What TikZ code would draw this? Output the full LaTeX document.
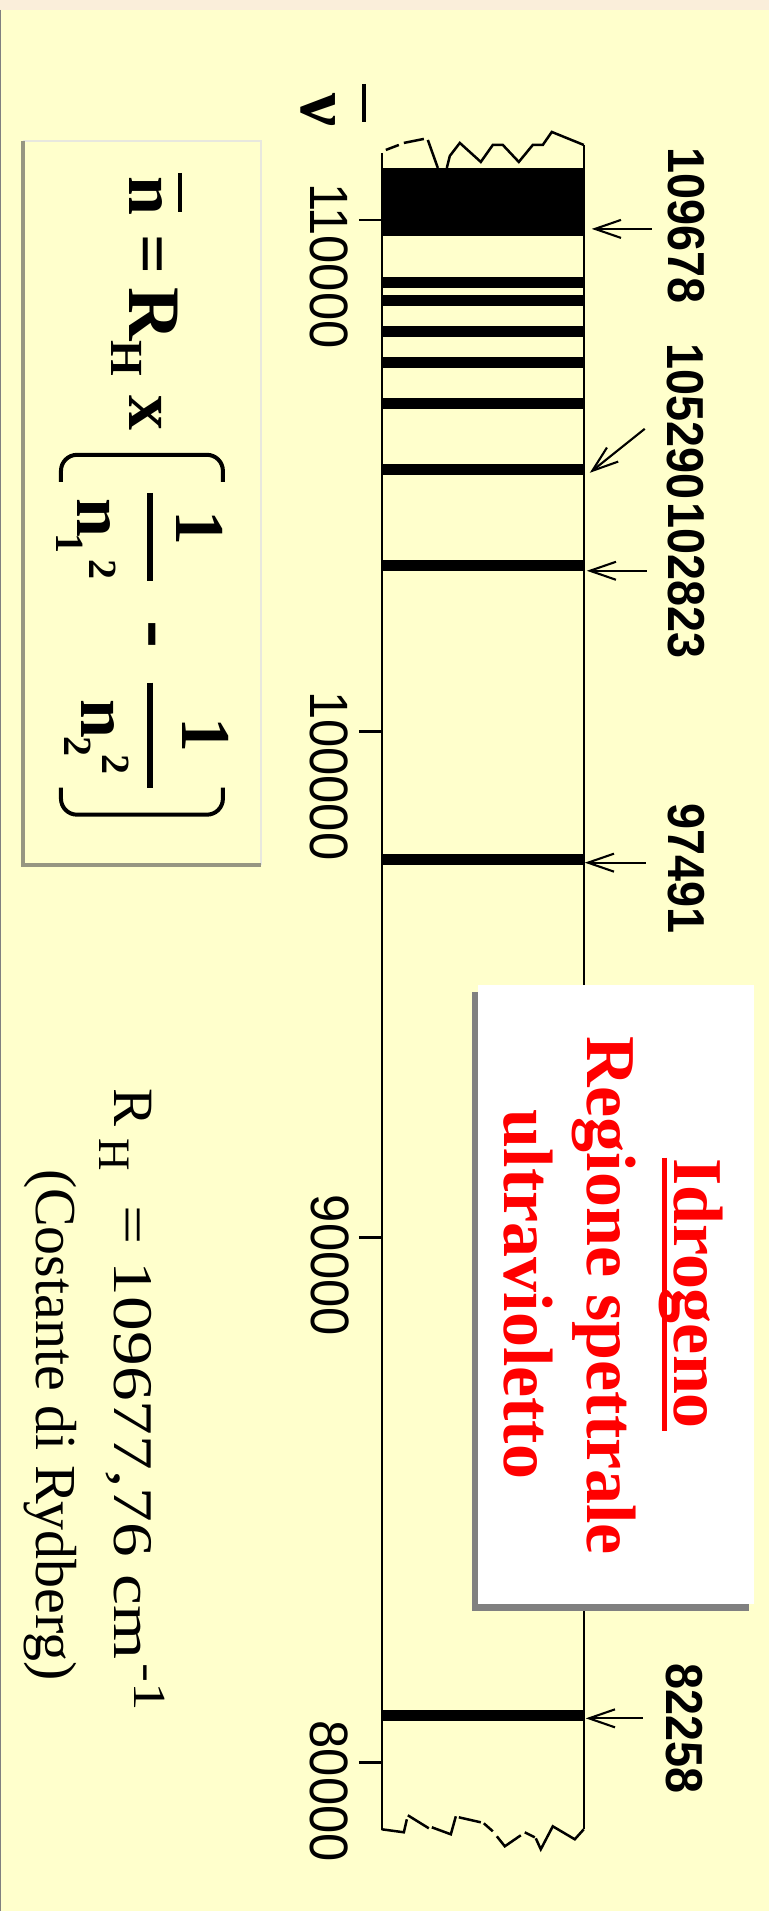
\documentclass[tikz,border=0pt]{standalone}
\usepackage{fontspec}
\setmainfont{Liberation Serif}
\newfontfamily\helv[FakeStretch=0.9]{Liberation Sans}
\newfontfamily\helvtick[FakeStretch=0.94]{Liberation Sans}
\newfontfamily\timeswide[FakeStretch=1.24]{Liberation Serif}
\usetikzlibrary{arrows.meta,calc,positioning}
\definecolor{slidebg}{RGB}{255,255,204}
\definecolor{slidetop}{RGB}{250,238,218}
\definecolor{boxshade}{RGB}{150,150,130}
\definecolor{boxlight}{RGB}{232,232,222}

\begin{document}
\begin{tikzpicture}[x=1pt,y=-1pt,
every node/.style={inner sep=0pt,outer sep=0pt,rotate=-90},
line label/.style={anchor=south,font=\helv\bfseries\fontsize{52}{60}\selectfont},
tick label/.style={font=\helvtick\fontsize{54}{62}\selectfont},
formula/.style={anchor=base,font=\bfseries\fontsize{70}{80}\selectfont},
formula small/.style={anchor=base,font=\bfseries\fontsize{40}{44}\selectfont},
title red/.style={anchor=base,text=red,font=\bfseries\fontsize{70}{80}\selectfont},
pointer/.style={-{Straight Barb[length=26pt,width=18pt]},line width=2.1pt},
band/.style={line width=2.5pt}]

% slide background
\fill[slidebg] (0,0) rectangle (769,1912);
\fill[slidetop] (0,0) rectangle (769,10);
\draw[gray,line width=1.5pt] (0.75,10) -- (0.75,1912);
\useasboundingbox (0,0) rectangle (769,1912);

% spectrum band
\draw[band] (382,153) -- (382,1831);
\draw[band] (584,145) -- (584,1830);
\draw[band] (386,150) -- (399,145);
\draw[band] (404,143) -- (424,139);
\draw[band] (428,140) -- (438,168);
\draw[band] (447,168) -- (450,156) -- (460,143) -- (481,162) -- (493,145) -- (503,145)
  -- (519,162) -- (533,145) -- (543,145) -- (552,132) -- (584,145);
\draw[band] (382,1830) -- (404,1833) -- (407,1820);
\draw[band] (408,1816) -- (429,1829);
\draw[band] (432,1828) -- (451,1835) -- (456,1817);
\draw[band] (459,1818) -- (481,1823);
\draw[band] (484,1824) -- (493,1832);
\draw[band] (497,1837) -- (505,1847) -- (521,1836);
\draw[band] (525,1833) -- (535,1838);
\draw[band] (536,1839) -- (541,1850) -- (553,1827) -- (575,1840) -- (584,1830);

% lines of the series
\fill (382,168) rectangle (584,236);
\foreach \y in {283,300.7,331.7,362.7,404,469.5,566,860,1716}
  \draw[line width=11pt] (382,\y) -- (584,\y);

% scale
\foreach \y in {220,732,1238,1763}
  \draw[band] (359,\y) -- (382,\y);
\node[tick label] (T110000) at (329,266) {110000};
\node[tick label] (T100000) at (329,776) {100000};
\node[tick label] (T90000) at (330,1266) {90000};
\node[tick label] (T80000) at (329,1792) {80000};
\node[anchor=base,font=\bfseries\fontsize{74}{80}\selectfont] (nu) at (302,110.5) {ν};
\draw[line width=4pt] (364,84) -- (364,122);

% wavenumbers
\node[line label] (L109678) at (668,226) {109678};
\node[line label] (L105290) at (667,421.7) {105290};
\node[line label] (L102823) at (668,581) {102823};
\node[line label] (L97491) at (668,869) {97491};
\node[line label] (L82258) at (666,1729) {82258};
\coordinate (p109678) at (592,229);
\coordinate (p105290) at (590,473);
\coordinate (p102823) at (587,571);
\coordinate (p97491) at (585,863);
\coordinate (p82258) at (586,1719);
\draw[pointer] ($(L109678.south)+(-16,3)$) -- (p109678);
\draw[pointer] ($(L105290.south)+(-22,7.3)$) -- (p105290);
\draw[pointer] ($(L102823.south)+(-21,-10)$) -- (p102823);
\draw[pointer] ($(L97491.south)+(-22,-6)$) -- (p97491);
\draw[pointer] ($(L82258.south)+(-23,-10)$) -- (p82258);

% Rydberg formula
\draw[boxlight,line width=2pt] (23,141) -- (261,141) -- (261,865);
\draw[boxshade,line width=4pt] (23,141) -- (23,865) -- (261,865);
\node[formula] (nbar) at (130,196.5) {n};
\draw[line width=4pt] (180,173) -- (180,212);
\node[formula] (eq) at (130,255) {=};
\node[formula,font=\bfseries\fontsize{74}{80}\selectfont] (R) at (130,314) {R};
\node[formula,font=\bfseries\fontsize{46}{50}\selectfont] (Hsub) at (112,359) {H};
\node[formula] (times) at (130,413.5) {x};
\draw[line width=4pt,rounded corners=16pt] (61,482) -- (61,455) -- (223,455) -- (223,482);
\draw[line width=4pt,rounded corners=16pt] (61,788) -- (61,815) -- (223,815) -- (223,788);
\draw[line width=6pt] (150,493) -- (150,581);
\draw[line width=6pt] (150,683) -- (150,788);
\node[formula] (num1) at (177,528.5) {1};
\node[formula] (den1) at (78,518.5) {n};
\node[formula small] (sub1) at (57,544) {1};
\node[formula small] (sup1) at (90,570) {2};
\node[formula,font=\bfseries\fontsize{84}{90}\selectfont] (minus) at (133,635) {-};
\node[formula] (num2) at (183,735) {1};
\node[formula] (den2) at (82,719) {n};
\node[formula small] (sub2) at (65,747) {2};
\node[formula small] (sup2) at (103,765) {2};

% title box
\fill[gray] (472,992) rectangle (749,1612);
\fill[white] (478,985) rectangle (754,1605);
\node[title red] (idro) at (675,1294) {Idrogeno};
\draw[red,line width=5pt] (664.5,1158) -- (664.5,1432);
\node[title red] (regione) at (588,1296) {Regione spettrale};
\node[title red] (uv) at (505,1295) {ultravioletto};

% Rydberg constant
\node[anchor=base west,font=\fontsize{57}{64}\selectfont] (RH) at (115,1089) {R};
\node[anchor=base west,font=\fontsize{45}{50}\selectfont] (RHsub) at (100,1139) {H};
\node[anchor=base west,font=\timeswide\fontsize{56}{64}\selectfont] (RHval) at (115,1206) {= 109677,76 cm};
\node[anchor=base west,font=\timeswide\fontsize{46}{50}\selectfont] (RHexp) at (135,1664) {-1};
\node[anchor=base,font=\fontsize{58}{64}\selectfont] (rydberg) at (37,1425.5) {(Costante di Rydberg)};
\end{tikzpicture}
\end{document}
